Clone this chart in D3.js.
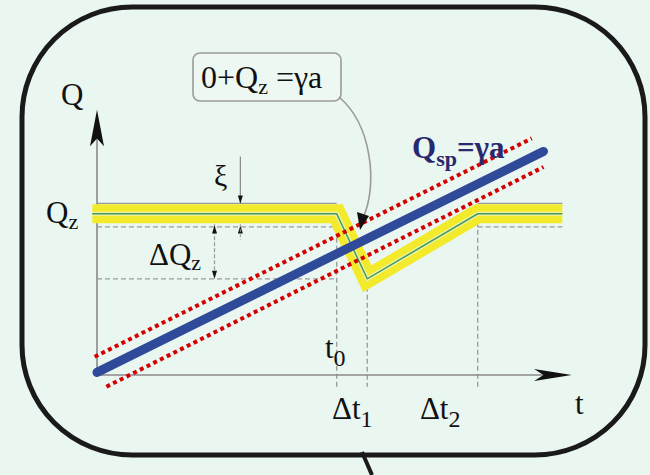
<!DOCTYPE html>
<html>
<head>
<meta charset="utf-8">
<script src="https://cdn.jsdelivr.net/npm/d3@7"></script>
<style>
  html, body { margin: 0; padding: 0; background: #eaf6f0; }
</style>
</head>
<body>
<div id="chart"></div>
<script>
// axis domains (abstract units for t and Q)
const tDomain = [0, 10];
const qDomain = [0, 10];

// demand Q_z: flat, dips after t0, recovers at t2
const zTimes = [-0.1, 5.1, 5.75, 8.1, 9.9];
const zValues = [6.2, 6.2, 3.7, 6.2, 6.2];
const qzLevel = 6.2;
const qLow = 3.7;
const xi = 0.4;

// supply Q_sp = γa and its tolerance band
const spTimes = [0, 9.5];
const spValues = [0.1, 8.6];
const upperTimes = [-0.05, 9.25];
const upperValues = [0.7, 9.1];
const lowerTimes = [0.2, 9.5];
const lowerValues = [-0.45, 8.0];

// event times and their labels
const eventTimes = [5.1, 5.75, 8.1];
const eventTops = [6.2, 3.7, 6.2];
const tickLabels = ["t", "Δt", "Δt"];
const tickSubs = ["0", "1", "2"];
const tickLabelT = [4.85, 5.0, 6.87];
const tickLabelQ = [0.65, -1.7, -1.7];

const SIZE = { width: 650, height: 475 };
const PLOT = { left: 97, right: 567, top: 115, bottom: 375 };
const SERIF = '"Liberation Serif", "Times New Roman", "DejaVu Serif", serif';

const svg = d3.select("#chart").append("svg")
  .attr("width", SIZE.width)
  .attr("height", SIZE.height)
  .attr("font-family", SERIF);

const x = d3.scaleLinear().domain(tDomain).range([PLOT.left, PLOT.right]);
const y = d3.scaleLinear().domain(qDomain).range([PLOT.bottom, PLOT.top]);
const line = d3.line().x(d => x(d[0])).y(d => y(d[1]));
const zip = (a, b) => a.map((v, i) => [v, b[i]]);

// outer rounded frame + tail
svg.append("rect")
  .attr("x", 22).attr("y", 7).attr("width", 623).attr("height", 448)
  .attr("rx", 110).attr("ry", 110)
  .attr("fill", "#eaf6f0").attr("stroke", "#1a1a1a").attr("stroke-width", 5);
svg.append("line").attr("x1", 362).attr("y1", 452).attr("x2", 372).attr("y2", 475)
  .attr("stroke", "#1a1a1a").attr("stroke-width", 4);

// guide lines
const guide = svg.append("g").attr("stroke", "#9a9a9a").attr("stroke-width", 1.3).attr("fill", "none");
guide.append("path").attr("stroke-dasharray", "5,3")
  .attr("d", line([[0, qLow], [eventTimes[0], qLow]]));
eventTimes.forEach((t, i) => {
  guide.append("path").attr("stroke-dasharray", "5,3")
    .attr("d", line([[t, eventTops[i]], [t, -0.45]]));
});
// band outline of Q_z (top solid, bottom dashed)
guide.append("path").attr("d", line([[0, qzLevel + xi], [eventTimes[0], qzLevel + xi]]));
guide.append("path").attr("d", line([[eventTimes[2], qzLevel + xi], [zTimes[4], qzLevel + xi]]));
guide.append("path").attr("stroke-dasharray", "5,3")
  .attr("d", line([[0, qzLevel - xi - 0.1], [eventTimes[0], qzLevel - xi - 0.1]]));
guide.append("path").attr("stroke-dasharray", "5,3")
  .attr("d", line([[eventTimes[2], qzLevel - xi - 0.1], [zTimes[4], qzLevel - xi - 0.1]]));

// axes
const axis = svg.append("g");
axis.append("path").attr("d", line([[0, 0], [0, 9.5]])).attr("stroke", "#8a8a8a").attr("stroke-width", 1.6);
axis.append("path").attr("d", line([[0, 0], [9.8, 0]])).attr("stroke", "#8a8a8a").attr("stroke-width", 1.6);
axis.append("path")
  .attr("d", `M${x(0)},${y(10.2)} L${x(0) + 7},${y(8.8)} L${x(0)},${y(9.1)} L${x(0) - 7},${y(8.8)} Z`)
  .attr("fill", "#111");
axis.append("path")
  .attr("d", `M${x(10.1)},${y(0)} L${x(9.3)},${y(0) - 6} L${x(9.5)},${y(0)} L${x(9.3)},${y(0) + 6} Z`)
  .attr("fill", "#111");

// Q_z band
svg.append("path").attr("d", line(zip(zTimes, zValues)))
  .attr("fill", "none").attr("stroke", "#f3ea2c").attr("stroke-width", 19).attr("stroke-linejoin", "miter");
svg.append("path").attr("d", line(zip(zTimes, zValues)))
  .attr("fill", "none").attr("stroke", "#eef3b0").attr("stroke-width", 4);
svg.append("path").attr("d", line(zip(zTimes, zValues)))
  .attr("fill", "none").attr("stroke", "#3f9a55").attr("stroke-width", 1.5);

// Q_sp line and tolerance
svg.append("path").attr("d", line(zip(spTimes, spValues)))
  .attr("stroke", "#2e4a98").attr("stroke-width", 9).attr("stroke-linecap", "round");
[zip(upperTimes, upperValues), zip(lowerTimes, lowerValues)].forEach(pts => {
  svg.append("path").attr("d", line(pts))
    .attr("stroke", "#d40000").attr("stroke-width", 4).attr("stroke-dasharray", "4,3.5");
});

// small dimension arrows (ξ and ΔQz)
function arrowHead(t, q, dir) {
  const px = x(t), py = y(q);
  svg.append("path")
    .attr("d", `M${px},${py} L${px - 2.5},${py - dir * 8} L${px + 2.5},${py - dir * 8} Z`)
    .attr("fill", "#111");
}
const tXi = 3.05, tDq = 2.5;
svg.append("path").attr("d", line([[tXi, 8.4], [tXi, qzLevel + xi]])).attr("stroke", "#888").attr("stroke-width", 1.2);
arrowHead(tXi, qzLevel + xi, 1);
arrowHead(tXi, qzLevel - xi - 0.05, -1);
svg.append("path").attr("d", line([[tXi, qzLevel - xi], [tXi, qzLevel - xi - 0.6]])).attr("stroke", "#999").attr("stroke-dasharray", "3,2");
svg.append("path").attr("d", line([[tDq, qzLevel - xi], [tDq, qLow]])).attr("stroke", "#999").attr("stroke-width", 1.2).attr("stroke-dasharray", "4,2");
arrowHead(tDq, qzLevel - xi - 0.05, -1);
arrowHead(tDq, qLow, 1);

// callout box and curved arrow
svg.append("rect").attr("x", 193).attr("y", 53).attr("width", 148).attr("height", 48).attr("rx", 7)
  .attr("fill", "#eef8f3").attr("stroke", "#9a9a9a").attr("stroke-width", 1.6);
const call = svg.append("text").attr("x", 201).attr("y", 88).attr("font-size", 32).attr("fill", "#111");
call.append("tspan").text("0+Q");
call.append("tspan").attr("dy", 6).attr("font-size", 22).text("z");
call.append("tspan").attr("dy", -6).text(" =γa");
svg.append("path").attr("d", "M339,97 C372,125 378,185 363,218")
  .attr("fill", "none").attr("stroke", "#9a9a9a").attr("stroke-width", 1.6);
svg.append("path").attr("d", "M360,230 L357,212 L369,216 Z").attr("fill", "#111");

// labels
const lab = svg.append("g").attr("fill", "#111");
lab.append("text").attr("x", 61).attr("y", 105).attr("font-size", 31).text("Q");
const qz = lab.append("text").attr("x", 46).attr("y", 223).attr("font-size", 31);
qz.append("tspan").text("Q");
qz.append("tspan").attr("dy", 6).attr("font-size", 22).text("z");
lab.append("text").attr("x", 214).attr("y", 186).attr("font-size", 30).text("ξ");
const dq = lab.append("text").attr("x", 149).attr("y", 265).attr("font-size", 31);
dq.append("tspan").text("ΔQ");
dq.append("tspan").attr("dy", 5).attr("font-size", 22).text("z");

tickLabels.forEach((s, i) => {
  const tx = lab.append("text").attr("x", x(tickLabelT[i])).attr("y", y(tickLabelQ[i])).attr("font-size", 31);
  tx.append("tspan").text(s);
  tx.append("tspan").attr("dy", 8).attr("font-size", 24).text(tickSubs[i]);
});
lab.append("text").attr("x", 575).attr("y", 414).attr("font-size", 31).text("t");

const sp = svg.append("text").attr("x", 412).attr("y", 158).attr("font-size", 31)
  .attr("font-weight", "bold").attr("fill", "#28286f");
sp.append("tspan").text("Q");
sp.append("tspan").attr("dy", 8).attr("font-size", 22).text("sp");
sp.append("tspan").attr("dy", -8).text("=γa");
</script>
</body>
</html>
